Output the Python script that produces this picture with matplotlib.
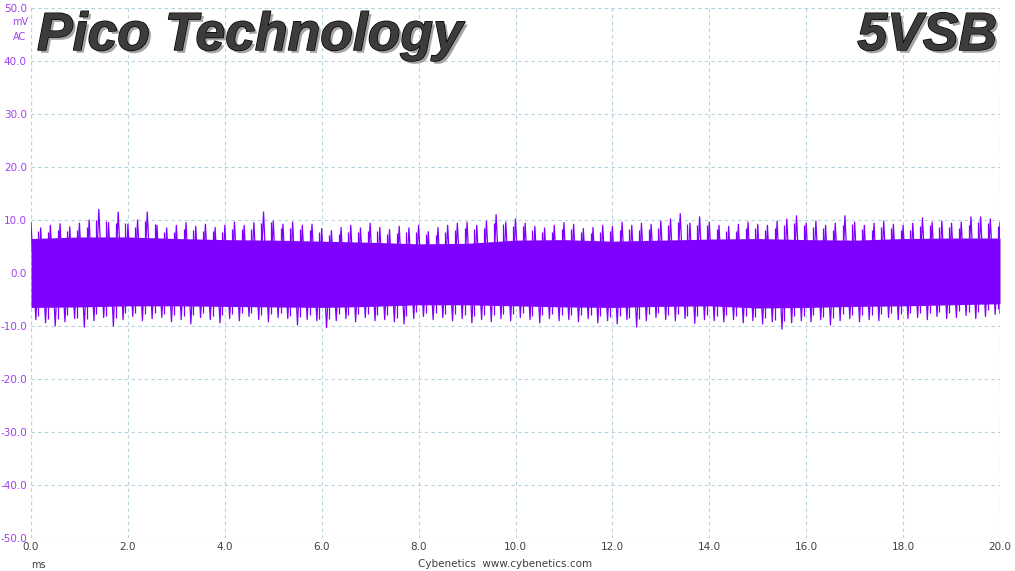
import matplotlib
matplotlib.use("Agg")
import matplotlib.pyplot as plt
import matplotlib.patheffects as pe

# time grid (ms) for the peak readings, step 0.2 ms
t_peak = [round(i * 0.2, 1) for i in range(101)]
upper_peak = [9.5, 8.5, 9.0, 9.3, 8.7, 9.4, 10.0, 12.0, 9.5, 11.5,
              9.2, 10.0, 11.5, 9.0, 8.5, 9.0, 9.5, 8.8, 9.2, 8.6,
              9.0, 9.6, 9.0, 9.5, 11.5, 9.8, 9.2, 9.6, 9.0, 9.2,
              8.4, 8.0, 8.6, 9.0, 8.5, 9.4, 8.6, 8.2, 8.8, 8.5,
              9.0, 7.8, 8.6, 9.0, 9.4, 9.6, 9.0, 9.8, 11.0, 9.6,
              10.2, 9.4, 8.8, 8.5, 9.0, 9.5, 9.2, 8.4, 8.6, 9.0,
              8.8, 9.6, 9.0, 9.4, 9.2, 9.8, 10.2, 11.2, 9.4, 10.6,
              9.6, 9.0, 8.8, 9.2, 9.6, 9.2, 9.0, 9.8, 10.2, 10.8,
              9.4, 9.8, 9.0, 9.4, 10.8, 9.6, 9.0, 9.4, 9.8, 9.2,
              9.0, 9.4, 10.4, 9.6, 9.8, 9.4, 9.6, 10.6, 10.6, 10.2,
              9.6]
lower_peak = [-8.8, -9.4, -10.0, -9.2, -8.6, -10.2, -9.0, -8.4, -10.0, -8.8,
              -8.2, -9.0, -8.6, -8.4, -9.2, -8.8, -9.6, -8.4, -8.8, -9.4,
              -8.6, -9.0, -8.2, -8.8, -9.2, -8.4, -8.6, -9.8, -8.8, -9.0,
              -10.3, -9.0, -8.6, -9.2, -8.4, -9.0, -8.8, -9.2, -9.6, -8.6,
              -8.2, -8.8, -8.4, -9.0, -8.6, -9.4, -8.8, -9.2, -8.6, -9.0,
              -8.4, -8.8, -9.4, -8.6, -9.0, -8.8, -9.2, -8.6, -9.4, -9.0,
              -9.6, -8.8, -10.2, -9.0, -8.4, -8.8, -9.0, -8.6, -9.5, -8.8,
              -9.0, -9.2, -8.8, -9.4, -9.0, -9.6, -9.2, -10.6, -9.4, -9.0,
              -9.2, -8.8, -9.8, -9.0, -8.6, -9.2, -8.8, -9.0, -8.4, -8.8,
              -8.6, -8.4, -8.8, -8.2, -8.6, -8.4, -8.0, -8.6, -8.2, -7.8,
              -7.6]

# core band envelope, step 1 ms
t_core = list(range(21))
core_hi = [6.5, 6.8, 6.8, 6.5, 6.3, 6.2, 6.0, 5.8, 5.5, 5.6, 6.2,
           6.3, 6.0, 6.2, 6.4, 6.5, 6.3, 6.2, 6.5, 6.6, 6.6]
core_lo = [-6.5, -6.4, -6.2, -6.2, -6.3, -6.4, -6.5, -6.3, -6.0, -6.0, -6.2,
           -6.4, -6.5, -6.3, -6.2, -6.6, -6.5, -6.3, -6.2, -6.0, -5.8]

x_ticks = [0, 2, 4, 6, 8, 10, 12, 14, 16, 18, 20]
y_ticks = [-50, -40, -30, -20, -10, 0, 10, 20, 30, 40, 50]

W, H = 1015, 571
fig = plt.figure(figsize=(W / 100, H / 100), dpi=100)
ax = fig.add_axes([31 / W, 1 - 538 / H, (1000 - 31) / W, (538 - 8) / H])

trace = '#7f00ff'
ax.fill_between(t_core, core_lo, core_hi, color=trace, lw=0, zorder=2)
# zig-zag trace through the peak readings
zx, zy = [], []
for i, t in enumerate(t_peak):
    zx.append(t)
    zy.append(upper_peak[i])
    if i < len(t_peak) - 1:
        zx.append(t + 0.1)
        zy.append(lower_peak[i])
    else:
        zx.append(t)
        zy.append(lower_peak[i])
ax.plot(zx, zy, color=trace, lw=0.9, zorder=3)
# secondary strokes between readings
mid_t = [(a + b) / 2 + 0.05 for a, b in zip(t_peak[:-1], t_peak[1:])]
mid_up = [(a + b) / 2 - 1.0 for a, b in zip(upper_peak[:-1], upper_peak[1:])]
mid_lo = [(a + b) / 2 + 1.0 for a, b in zip(lower_peak[:-1], lower_peak[1:])]
ax.vlines(mid_t, mid_lo, mid_up, color=trace, lw=0.9, zorder=3)

ax.set_xlim(0, 20)
ax.set_ylim(-50, 50)
ax.set_xticks(x_ticks)
ax.set_yticks(y_ticks)
ax.set_xticklabels([f"{v:.1f}" for v in x_ticks], color='#404040', fontsize=7.5)
ax.set_yticklabels([f"{v:.1f}" for v in y_ticks], color='#a040f0', fontsize=7.5)
ax.tick_params(length=0, pad=3)
gkw = dict(color='#b5d3dd', linestyle=(0, (3, 3)), lw=0.8, zorder=0)
ax.grid(True, **gkw)
for s in ax.spines.values():
    s.set_visible(False)
ax.axvline(20, **gkw)
ax.axvline(0, **gkw)
ax.axhline(50, **gkw)
ax.axhline(-50, **gkw)

fig.text(20 / W, 1 - 22 / H, "mV", color='#a040f0', fontsize=7, ha='center', va='center')
fig.text(20 / W, 1 - 37 / H, "AC", color='#a040f0', fontsize=7, ha='center', va='center')
fig.text(38 / W, 1 - 565 / H, "ms", color='#404040', fontsize=7, ha='center', va='center')
fig.text(505 / W, 1 - 564 / H, "Cybenetics  www.cybenetics.com", color='#404040',
         fontsize=7.5, ha='center', va='center')

effects = [pe.withSimplePatchShadow(offset=(2, -2), shadow_rgbFace='#9a9a9a', alpha=0.9),
           pe.Stroke(linewidth=1.0, foreground='#000000'), pe.Normal()]
fig.text(37 / W, 1 - 50 / H, "Pico Technology", fontsize=38.5, fontweight='bold',
         fontstyle='italic', family='Liberation Sans', color='#3c3c3c',
         ha='left', va='baseline', path_effects=effects)
fig.text(997 / W, 1 - 50 / H, "5VSB", fontsize=38.5, fontweight='bold',
         fontstyle='italic', family='Liberation Sans', color='#3c3c3c',
         ha='right', va='baseline', path_effects=effects)

fig.savefig("out.png", dpi=100)
